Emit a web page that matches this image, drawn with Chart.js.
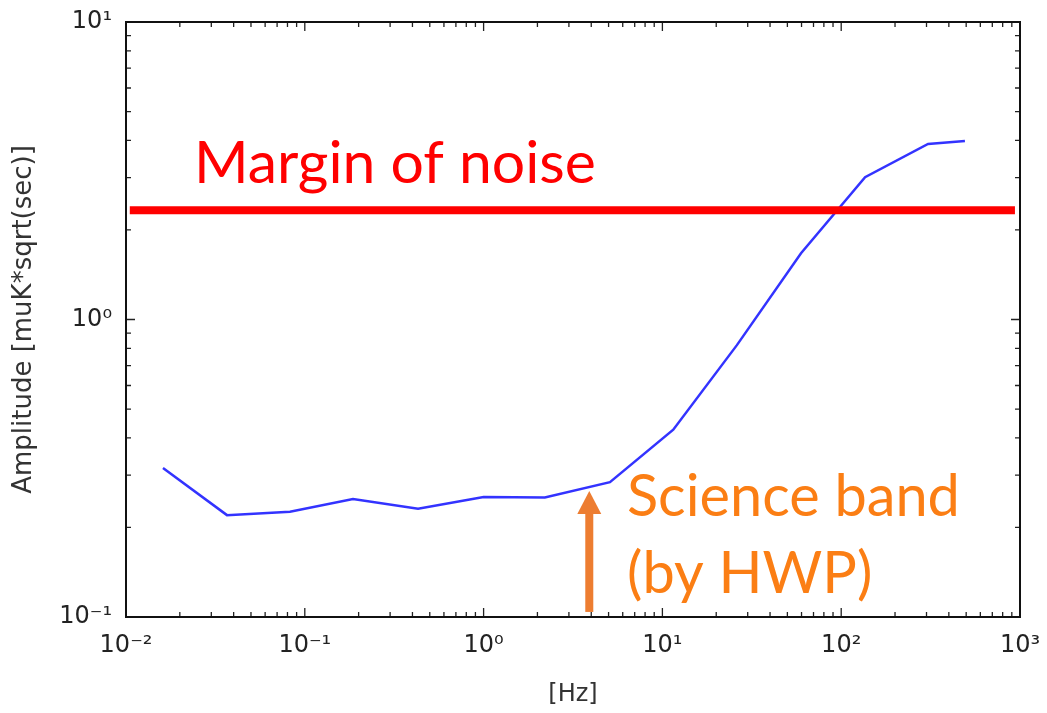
<!DOCTYPE html>
<html>
<head>
<meta charset="utf-8">
<script src="https://cdn.jsdelivr.net/npm/chart.js@4.4.1/dist/chart.umd.min.js"></script>
<style>
  html, body { margin: 0; padding: 0; background: #fff; }
  #wrap { width: 1047px; height: 713px; position: relative; }
</style>
</head>
<body>
<div id="wrap"><canvas id="chart"></canvas></div>
<script>
// ── Data ─────────────────────────────────────────────────────────────────────
const FREQ_HZ   = [0.0161, 0.0367, 0.0826, 0.186, 0.430, 1.0, 2.20, 5.09, 11.5, 26.1, 59.6, 136, 306, 492];
const AMPLITUDE = [0.317, 0.220, 0.226, 0.249, 0.231, 0.253, 0.252, 0.284, 0.426, 0.820, 1.67, 3.01, 3.89, 3.98];

const NOISE_MARGIN = 2.33;            // level of the red line
const NOISE_SPAN   = [0.0105, 937];   // x extent of the red line
const BAND_ARROW_X = 3.9;             // Hz, science band arrow
const BAND_ARROW_Y = [0.104, 0.265];  // from / to

const X_RANGE = [1e-2, 1e3];
const Y_RANGE = [1e-1, 1e1];

const X_TITLE = "[Hz]";
const Y_TITLE = "Amplitude [muK*sqrt(sec)]";
const LABEL_MARGIN = "Margin of noise";
const LABEL_BAND   = ["Science band", "(by HWP)"];

// ── Helpers ──────────────────────────────────────────────────────────────────
const SUP = { "-": "\u207B", "0": "\u2070", "1": "\u00B9", "2": "\u00B2", "3": "\u00B3" };

function decadeLabel(value) {
  const e = Math.log10(value);
  if (Math.abs(e - Math.round(e)) > 1e-6) return "";
  return "10" + String(Math.round(e)).split("").map(c => SUP[c]).join("");
}

function logTicks(min, max) {
  const out = [];
  for (let d = Math.floor(Math.log10(min)); d <= Math.ceil(Math.log10(max)); d++) {
    for (let m = 1; m <= 9; m++) {
      const v = m * Math.pow(10, d);
      if (v >= min * 0.999 && v <= max * 1.001) out.push({ v, major: m === 1 });
    }
  }
  return out;
}

function fitFont(ctx, text, family, width) {
  ctx.font = `100px ${family}`;
  const size = 100 * width / ctx.measureText(text).width;
  return `${size.toFixed(1)}px ${family}`;
}

// ── Overlay: frame, inward ticks, arrow, annotations ─────────────────────────
const overlay = {
  id: "overlay",
  afterDatasetsDraw(chart) {
    const { ctx, chartArea: a, scales: { x, y } } = chart;
    ctx.save();

    // inward ticks on all four sides
    ctx.strokeStyle = "#222";
    ctx.lineWidth = 1.3;
    ctx.beginPath();
    for (const t of logTicks(x.min, x.max)) {
      const px = x.getPixelForValue(t.v);
      const len = t.major ? 9 : 5;
      ctx.moveTo(px, a.bottom); ctx.lineTo(px, a.bottom - len);
      ctx.moveTo(px, a.top);    ctx.lineTo(px, a.top + len);
    }
    for (const t of logTicks(y.min, y.max)) {
      const py = y.getPixelForValue(t.v);
      const len = t.major ? 9 : 5;
      ctx.moveTo(a.left, py);  ctx.lineTo(a.left + len, py);
      ctx.moveTo(a.right, py); ctx.lineTo(a.right - len, py);
    }
    ctx.stroke();

    // frame
    ctx.strokeStyle = "#111";
    ctx.lineWidth = 2;
    ctx.strokeRect(a.left, a.top, a.width, a.height);

    // science band arrow
    const ax = x.getPixelForValue(BAND_ARROW_X);
    const yb = y.getPixelForValue(BAND_ARROW_Y[0]);
    const yt = y.getPixelForValue(BAND_ARROW_Y[1]);
    ctx.fillStyle = "#ed7d31";
    ctx.fillRect(ax - 4, yt + 22, 8, yb - yt - 22);
    ctx.beginPath();
    ctx.moveTo(ax, yt);
    ctx.lineTo(ax + 12, yt + 23);
    ctx.lineTo(ax - 12, yt + 23);
    ctx.closePath();
    ctx.fill();

    // annotations
    const fam = "Lato, 'Open Sans', sans-serif";
    ctx.textAlign = "left";
    ctx.textBaseline = "alphabetic";
    ctx.fillStyle = "#ff0000";
    ctx.font = fitFont(ctx, LABEL_MARGIN, fam, 402);
    ctx.fillText(LABEL_MARGIN, 194, 183);

    ctx.fillStyle = "#fb7e14";
    ctx.font = fitFont(ctx, LABEL_BAND[0], fam, 333);
    ctx.fillText(LABEL_BAND[0], 627, 516);
    ctx.fillText(LABEL_BAND[1], 627, 593);

    ctx.restore();
  }
};

// ── Chart ────────────────────────────────────────────────────────────────────
const tickFont = { family: "'DejaVu Sans'", size: 24 };

new Chart(document.getElementById("chart"), {
  type: "line",
  data: {
    datasets: [
      {
        label: "noise margin",
        data: NOISE_SPAN.map(f => ({ x: f, y: NOISE_MARGIN })),
        borderColor: "#ff0000",
        borderWidth: 8,
        borderCapStyle: "butt",
        pointRadius: 0,
        order: 0,
      },
      {
        label: "amplitude",
        data: FREQ_HZ.map((f, i) => ({ x: f, y: AMPLITUDE[i] })),
        borderColor: "rgba(40,40,255,0.95)",
        borderWidth: 2.5,
        pointRadius: 0,
        tension: 0,
        order: 1,
      },
    ],
  },
  options: {
    responsive: true,
    maintainAspectRatio: false,
    animation: false,
    layout: { padding: { top: 22, right: 27, left: 0, bottom: 0 } },
    plugins: { legend: { display: false }, tooltip: { enabled: false } },
    scales: {
      x: {
        type: "logarithmic",
        min: X_RANGE[0], max: X_RANGE[1],
        grid: { display: false, drawTicks: false },
        border: { display: false },
        ticks: { autoSkip: false, maxRotation: 0, padding: 14, color: "#222", font: tickFont, callback: decadeLabel },
        title: { display: true, text: X_TITLE, color: "#333", font: { family: "'DejaVu Sans'", size: 24 }, padding: { top: 0, bottom: 4 } },
        afterFit: s => { s.height = 96; s.paddingLeft = 0; s.paddingRight = 0; },
      },
      y: {
        type: "logarithmic",
        min: Y_RANGE[0], max: Y_RANGE[1],
        grid: { display: false, drawTicks: false },
        border: { display: false },
        ticks: { autoSkip: false, padding: 14, color: "#222", font: tickFont, callback: decadeLabel },
        title: { display: true, text: Y_TITLE, color: "#333", font: { family: "'DejaVu Sans'", size: 26 }, padding: { top: 9, bottom: 0 } },
        afterFit: s => { s.width = 126; s.paddingTop = 0; s.paddingBottom = 0; },
      },
    },
  },
  plugins: [overlay],
});
</script>
</body>
</html>
